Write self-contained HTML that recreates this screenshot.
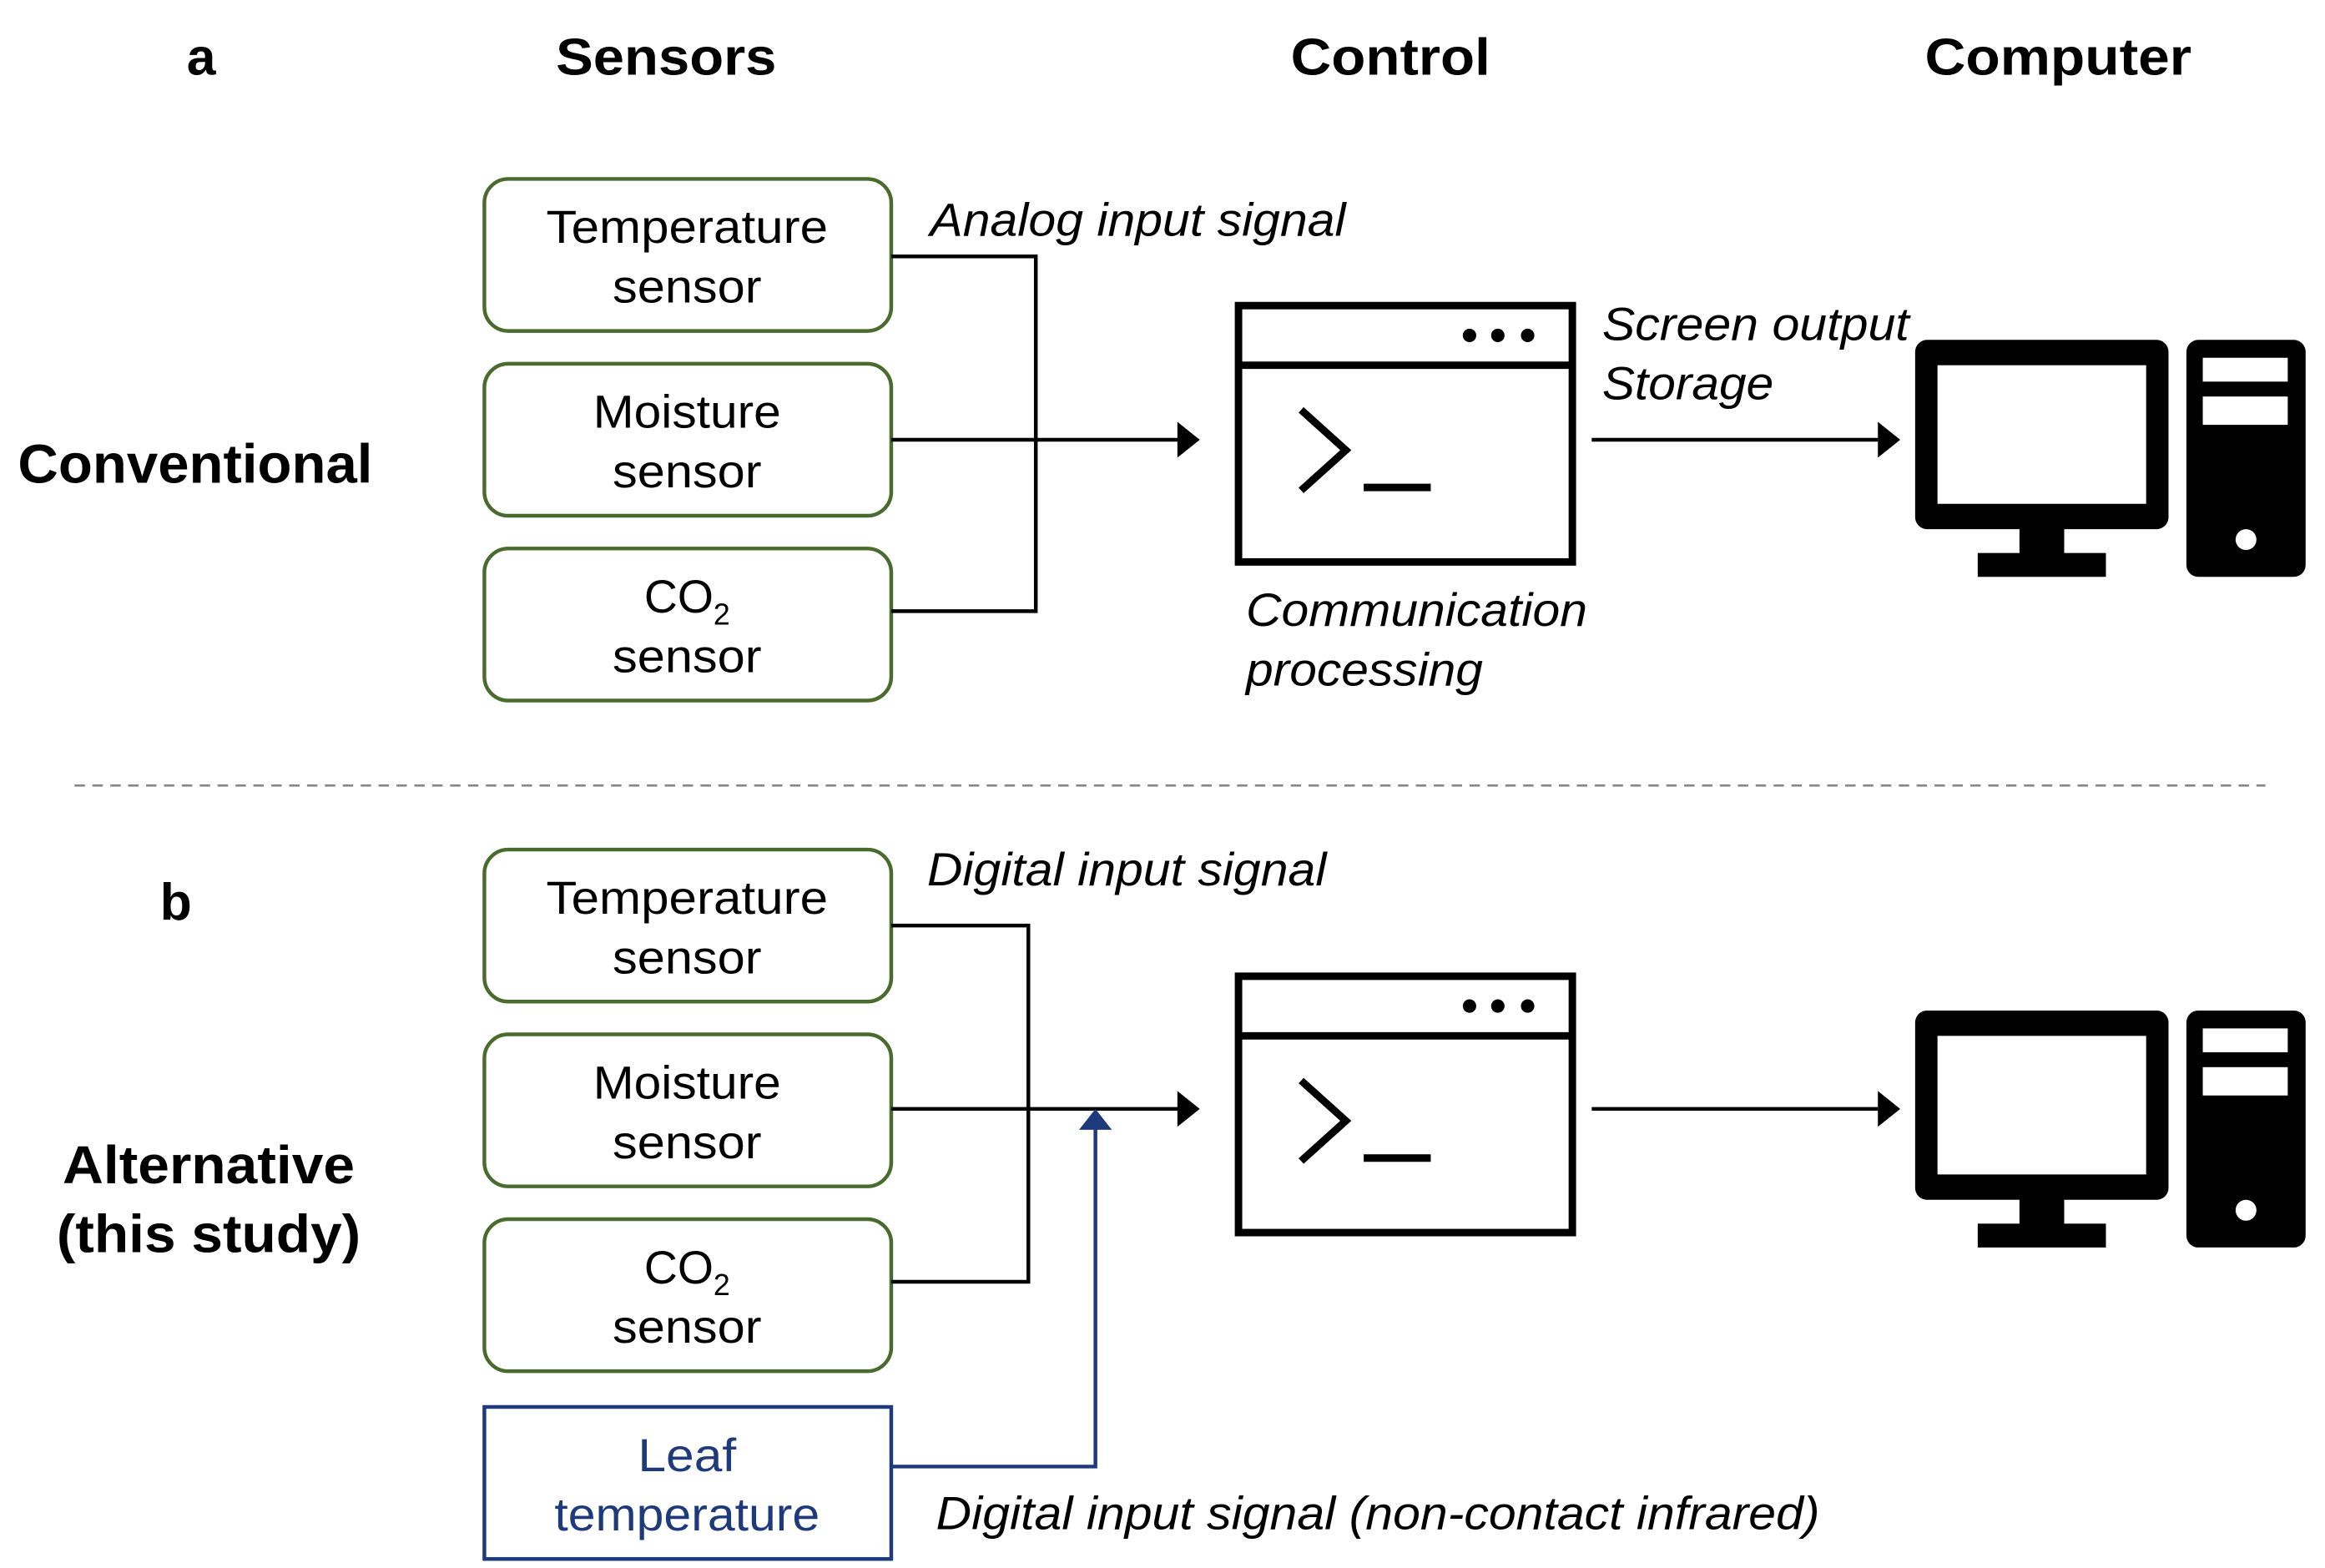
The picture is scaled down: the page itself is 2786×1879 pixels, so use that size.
<!DOCTYPE html>
<html><head><meta charset="utf-8"><style>html,body{margin:0;padding:0;background:#fff}svg{display:block}</style></head><body>
<svg width="2786" height="1879" viewBox="0 0 1560 1052" xmlns="http://www.w3.org/2000/svg" font-family="Liberation Sans, Arial, sans-serif">
<defs>
<g id="win">
<rect x="831" y="0" width="224" height="172" fill="none" stroke="#000" stroke-width="5"/>
<line x1="831" y1="40" x2="1055" y2="40" stroke="#000" stroke-width="5"/>
<circle cx="986" cy="20" r="4.5"/><circle cx="1005" cy="20" r="4.5"/><circle cx="1025" cy="20" r="4.5"/>
<polyline points="873,70 903,97 873,124" fill="none" stroke="#000" stroke-width="5"/>
<line x1="915" y1="122" x2="960" y2="122" stroke="#000" stroke-width="5"/>
</g>
<g id="pc">
<rect x="1285" y="0" width="170" height="127" rx="8" fill="#000"/>
<rect x="1300" y="17" width="140" height="93" fill="#fff"/>
<rect x="1355" y="125" width="30" height="20" fill="#000"/>
<rect x="1327" y="143" width="86" height="16" fill="#000"/>
<rect x="1467" y="0" width="80" height="159" rx="8" fill="#000"/>
<rect x="1478" y="12" width="57" height="16" fill="#fff"/>
<rect x="1478" y="38" width="57" height="19" fill="#fff"/>
<circle cx="1507" cy="134" r="7" fill="#fff"/>
</g>
<g id="sensors" font-size="31" text-anchor="middle" fill="#000">
<rect x="325" y="0" width="273" height="102" rx="16" fill="none" stroke="#4a6b2e" stroke-width="2.5"/>
<rect x="325" y="124" width="273" height="102" rx="16" fill="none" stroke="#4a6b2e" stroke-width="2.5"/>
<rect x="325" y="248" width="273" height="102" rx="16" fill="none" stroke="#4a6b2e" stroke-width="2.5"/>
<text x="461" y="43" textLength="189" lengthAdjust="spacingAndGlyphs">Temperature</text><text x="461" y="83" textLength="100" lengthAdjust="spacingAndGlyphs">sensor</text>
<text x="461" y="167" textLength="126" lengthAdjust="spacingAndGlyphs">Moisture</text><text x="461" y="207" textLength="100" lengthAdjust="spacingAndGlyphs">sensor</text>
<text x="461" y="291">CO<tspan font-size="20" dy="8">2</tspan></text><text x="461" y="331" textLength="100" lengthAdjust="spacingAndGlyphs">sensor</text>
</g>
</defs>
<g font-weight="bold" font-size="35" text-anchor="middle">
<text x="135" y="50">a</text>
<text x="447" y="50" textLength="148" lengthAdjust="spacingAndGlyphs">Sensors</text>
<text x="933" y="50" textLength="134" lengthAdjust="spacingAndGlyphs">Control</text>
<text x="1381" y="50" textLength="179" lengthAdjust="spacingAndGlyphs">Computer</text>
<text x="131" y="324" font-size="37" textLength="238" lengthAdjust="spacingAndGlyphs">Conventional</text>
<text x="118" y="617">b</text>
<text x="140" y="794" font-size="36" textLength="196" lengthAdjust="spacingAndGlyphs">Alternative</text>
<text x="140" y="840" font-size="36" textLength="204" lengthAdjust="spacingAndGlyphs">(this study)</text>
</g>
<use href="#sensors" y="120"/>
<use href="#sensors" y="570"/>
<use href="#win" y="205"/>
<use href="#win" y="655"/>
<use href="#pc" y="228"/>
<use href="#pc" y="678"/>
<g stroke="#000" stroke-width="2.5" fill="none">
<polyline points="598,172 695,172 695,410 598,410"/>
<line x1="598" y1="295" x2="792" y2="295"/>
<line x1="1068" y1="295" x2="1260" y2="295"/>
<polyline points="598,621 690,621 690,860 598,860"/>
<line x1="598" y1="744" x2="792" y2="744"/>
<line x1="1068" y1="744" x2="1260" y2="744"/>
</g>
<g fill="#000">
<polygon points="790,283 805,295 790,307"/>
<polygon points="1260,283 1275,295 1260,307"/>
<polygon points="790,732 805,744 790,756"/>
<polygon points="1260,732 1275,744 1260,756"/>
</g>
<polyline points="598,984 735,984 735,757" fill="none" stroke="#1f3a7a" stroke-width="2.5"/>
<polygon points="724,758 735,744 746,758" fill="#1f3a7a"/>
<rect x="325" y="944" width="273" height="102" fill="none" stroke="#1f3a7a" stroke-width="2.5"/>
<g font-size="31" text-anchor="middle" fill="#1f3a7a"><text x="461" y="987" textLength="66" lengthAdjust="spacingAndGlyphs">Leaf</text><text x="461" y="1027" textLength="178" lengthAdjust="spacingAndGlyphs">temperature</text></g>
<g font-size="31" font-style="italic" fill="#000">
<text x="624" y="158" textLength="279" lengthAdjust="spacingAndGlyphs">Analog input signal</text>
<text x="1075" y="228" textLength="206" lengthAdjust="spacingAndGlyphs">Screen output</text>
<text x="1075" y="268" textLength="115" lengthAdjust="spacingAndGlyphs">Storage</text>
<text x="836" y="420" textLength="229" lengthAdjust="spacingAndGlyphs">Communication</text>
<text x="836" y="460" textLength="159" lengthAdjust="spacingAndGlyphs">processing</text>
<text x="622" y="594" textLength="268" lengthAdjust="spacingAndGlyphs">Digital input signal</text>
<text x="628" y="1026" textLength="593" lengthAdjust="spacingAndGlyphs">Digital input signal (non-contact infrared)</text>
</g>
<line x1="50" y1="527" x2="1520" y2="527" stroke="#888" stroke-width="1.5" stroke-dasharray="7,5"/>
</svg>
</body></html>
